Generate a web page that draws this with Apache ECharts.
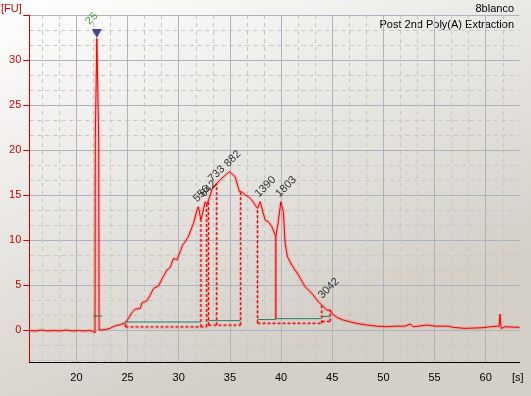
<!DOCTYPE html>
<html>
<head>
<meta charset="utf-8">
<script src="https://cdn.jsdelivr.net/npm/echarts@6/dist/echarts.min.js"></script>
<style>
html,body{margin:0;padding:0;background:#fff;}
#chart{width:531px;height:396px;}
</style>
</head>
<body>
<div id="chart"></div>
<script>
// ---- data ----
const times = [15.4,16.0,16.6,17.2,17.8,18.4,19.0,19.6,20.2,20.8,21.3,21.6,21.75,21.82,21.85,22.0,22.18,22.22,22.3,22.8,23.3,23.81,24.3,24.78,25.1,25.4,25.75,26.24,26.41,26.89,27.22,27.54,28.03,28.36,28.85,29.17,29.49,29.82,30.15,30.37,30.63,30.96,31.12,31.45,31.78,31.93,32.17,32.59,32.75,33.24,33.4,33.73,34.25,34.96,35.52,35.94,36.17,36.49,36.82,37.15,37.47,37.7,37.96,38.12,38.45,38.77,39.1,39.49,39.75,39.98,40.23,40.4,40.63,41.05,41.7,42.35,43.01,43.65,43.98,44.14,44.47,44.8,44.96,45.45,46.09,46.75,47.4,48.38,49.36,50.33,51.31,52.12,52.61,52.93,54.24,55.05,56.35,56.51,56.84,57.98,59.61,61.07,61.3,61.4,61.5,61.88,63.3];
const fu    = [-0.05,-0.1,0.0,-0.1,-0.05,-0.1,0.0,-0.1,-0.05,-0.1,-0.05,-0.15,-0.25,-0.3,21.3,32.4,21.3,0.0,0.1,0.05,0.2,0.48,0.6,0.81,1.3,1.9,2.33,2.4,3.03,3.26,3.9,4.63,4.9,5.67,6.67,6.97,7.97,7.78,8.7,9.44,9.81,10.44,10.44,11.86,13.33,13.7,12.2,14.26,13.9,15.56,15.92,16.3,16.9,17.6,17.03,15.37,15.37,15.0,14.81,14.44,13.9,13.52,14.26,14.08,12.2,12.03,11.48,10.37,12.2,14.26,13.14,9.63,8.14,7.22,6.11,4.81,4.08,3.14,2.78,2.97,2.22,2.22,1.86,1.41,1.11,0.92,0.74,0.56,0.44,0.37,0.44,0.44,0.67,0.37,0.56,0.44,0.44,0.63,0.3,0.19,0.26,0.44,0.4,1.78,0.19,0.37,0.3];

const peakTimes   = [31.93, 32.59, 33.4, 34.96, 37.96, 39.98, 44.14];
const peakHeights = [13.7, 14.26, 15.92, 17.6, 14.26, 14.26, 2.97];
const peakLabels  = ['556', '642', '733', '882', '1390', '1803', '3042'];

const markerTime = 22.0, markerHeight = 32.4, markerLabel = '25';

// dashed peak boundaries (time, bottom, top)
const boundTimes   = [24.8, 32.17, 32.73, 32.91, 33.71, 36.05, 37.7, 43.98, 44.8];
const boundBottoms = [0.35, 0.35, 0.35, 0.55, 0.55, 0.55, 0.75, 0.75, 0.95];
const boundTops    = [0.81, 12.2, 13.9, 14.45, 16.3, 15.37, 13.52, 2.78, 2.22];
// solid boundary
const solidTimes = [39.49], solidBottoms = [1.2], solidTops = [10.37];
// dashed floors
const floorStarts = [24.8, 32.91, 37.7, 43.98];
const floorEnds   = [32.73, 36.05, 43.98, 44.8];
const floorLevels = [0.35, 0.55, 0.75, 0.95];
// green baselines
const baseStarts = [21.63, 24.8, 32.91, 37.7, 39.49, 44.0];
const baseEnds   = [22.5, 32.17, 36.05, 39.49, 43.9, 44.8];
const baseLevels = [1.55, 0.9, 1.05, 1.17, 1.27, 1.52];

const xTickValues = [20, 25, 30, 35, 40, 45, 50, 55, 60];
const yTickValues = [0, 5, 10, 15, 20, 25, 30];
const yGridMajor  = [0, 5, 10, 15, 20, 25, 30, 35];

const X_MIN = 15.4, X_MAX = 63.3, Y_MIN = -3.6, Y_MAX = 35;

// minor grid positions (every 5/3)
const xMinor = [], yMinor = [];
for (let k = -30; k <= 60; k++) {
  if (k % 3 === 0) continue;
  const v = k * 5 / 3;
  if (v > X_MIN && v < X_MAX) xMinor.push(+v.toFixed(4));
  if (v > Y_MIN && v < Y_MAX) yMinor.push(+v.toFixed(4));
}

const FONT = "'Liberation Sans', Arial, sans-serif";
const RED = '#ee0000';
const HALO = 'rgba(255,60,60,0.22)';
const HALO2 = 'rgba(255,50,50,0.38)';

const trace = times.map((t, i) => [t, fu[i]]);

function lineSeries(data, style, z) {
  return {type: 'line', data: data, showSymbol: false, silent: true, z: z,
          lineStyle: style};
}

const dashedList = [
  ...boundTimes.map((t, i) => [[t, boundBottoms[i]], [t, boundTops[i]]]),
  ...floorStarts.map((s, i) => [[s, floorLevels[i]], [floorEnds[i], floorLevels[i]]])
];
const solidList = solidTimes.map((t, i) => [[t, solidBottoms[i]], [t, solidTops[i]]]);
const baseList = baseStarts.map((s, i) => [[s, baseLevels[i]], [baseEnds[i], baseLevels[i]]]);

const series = [
  lineSeries(trace, {color: HALO, width: 3.5}, 2),
  lineSeries(trace, {color: RED, width: 1}, 3)
];
dashedList.forEach(seg => {
  series.push(lineSeries(seg, {color: HALO2, width: 3, type: [3, 2]}, 2));
  series.push(lineSeries(seg, {color: RED, width: 1, type: [3, 2]}, 4));
});
solidList.forEach(seg => {
  series.push(lineSeries(seg, {color: HALO2, width: 3}, 2));
  series.push(lineSeries(seg, {color: RED, width: 1}, 4));
});
baseList.forEach(seg => {
  series.push(lineSeries(seg, {color: '#2e7d5e', width: 1}, 4));
});
series.push(
  {type: 'scatter', silent: true, z: 5, data: [[markerTime, markerHeight]],
   symbol: 'triangle', symbolRotate: 180, symbolSize: [10, 9], symbolOffset: [0, -5],
   itemStyle: {color: '#1a1a6e'}},
  {type: 'scatter', silent: true, z: 6, data: [[markerTime, markerHeight, markerLabel]],
   symbolSize: 1, itemStyle: {color: 'transparent'},
   label: {show: true, formatter: p => p.data[2], position: [-5, -11], align: 'left', verticalAlign: 'bottom',
           rotate: 45, color: '#1e8a1e', fontSize: 11, fontFamily: FONT}},
  {type: 'scatter', silent: true, z: 6,
   data: peakTimes.map((t, i) => [t, peakHeights[i], peakLabels[i]]),
   symbolSize: 1, itemStyle: {color: 'transparent'},
   label: {show: true, formatter: p => p.data[2], position: [1, -2], align: 'left', verticalAlign: 'bottom',
           rotate: 45, color: '#000', fontSize: 11, fontFamily: FONT}}
);

const chart = echarts.init(document.getElementById('chart'), null, {renderer: 'canvas'});
const option = {
  animation: false,
  backgroundColor: {type: 'linear', x: 0, y: 0, x2: 0.3, y2: 1,
    colorStops: [{offset: 0, color: '#ffffff'}, {offset: 1, color: '#d4d0c8'}]},
  grid: {left: 29.3, right: 11.5, top: 15, bottom: 33.5},
  xAxis: [
    {type: 'value', min: X_MIN, max: X_MAX, gridIndex: 0,
     axisLine: {show: true, onZero: false, lineStyle: {color: '#000', width: 1}},
     axisTick: {show: false, customValues: xTickValues},
     axisLabel: {customValues: xTickValues, color: '#000', fontSize: 11, fontFamily: FONT, margin: 10},
     splitLine: {show: true, lineStyle: {color: '#aeb4be', width: 1}}},
    {type: 'value', min: X_MIN, max: X_MAX, gridIndex: 0, position: 'bottom',
     axisLine: {show: false, onZero: false}, axisTick: {show: false, customValues: xMinor},
     axisLabel: {show: false}, splitLine: {show: true, lineStyle: {color: '#c6c6c6', width: 1, type: [4, 4]}}}
  ],
  yAxis: [
    {type: 'value', min: Y_MIN, max: Y_MAX, gridIndex: 0,
     axisLine: {show: true, onZero: false, lineStyle: {color: '#d00000', width: 1}},
     axisTick: {show: true, customValues: yGridMajor, length: 6, lineStyle: {color: '#d00000'}},
     axisLabel: {customValues: yTickValues, color: '#d00000', fontSize: 11, fontFamily: FONT, margin: 8},
     splitLine: {show: true, lineStyle: {color: '#aeb4be', width: 1}}},
    {type: 'value', min: Y_MIN, max: Y_MAX, gridIndex: 0, position: 'left',
     axisLine: {show: false, onZero: false}, axisTick: {show: false, customValues: yMinor},
     axisLabel: {show: false}, splitLine: {show: true, lineStyle: {color: '#c6c6c6', width: 1, type: [4, 4]}}}
  ],
  series: series,
  graphic: [
    {type: 'text', left: 1, top: 3, style: {text: '[FU]', fill: '#d00000', font: '11px ' + FONT}},
    {type: 'text', x: 514, y: 3, style: {text: '8blanco', fill: '#000', font: '11px ' + FONT, textAlign: 'right'}},
    {type: 'text', x: 514, y: 19, style: {text: 'Post 2nd Poly(A) Extraction', fill: '#000', font: '11px ' + FONT, textAlign: 'right'}},
    {type: 'text', x: 512, y: 372, style: {text: '[s]', fill: '#000', font: '11px ' + FONT}}
  ]
};
chart.setOption(option);
</script>
</body>
</html>
